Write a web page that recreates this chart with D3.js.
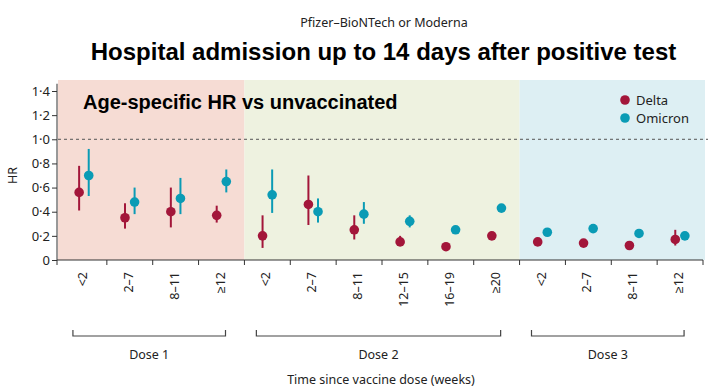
<!DOCTYPE html>
<html>
<head>
<meta charset="utf-8">
<script src="https://cdn.jsdelivr.net/npm/d3@7"></script>
<style>
  body { margin: 0; background: #fff; }
  text { font-family: "Noto Sans", sans-serif; fill: #222; }
</style>
</head>
<body>
<div id="chart"></div>
<script>
// time since dose categories, per dose group
const doses = ["Dose 1", "Dose 2", "Dose 3"]
const categories = [
  ["<2", "2–7", "8–11", "≥12"],
  ["<2", "2–7", "8–11", "12–15", "16–19", "≥20"],
  ["<2", "2–7", "8–11", "≥12"]
]
// HR estimates with 95% CI
const deltaHR   = [0.56, 0.35, 0.40, 0.37,  0.20, 0.46, 0.25, 0.15, 0.11, 0.20,  0.15, 0.14, 0.12, 0.17]
const deltaLow  = [0.41, 0.26, 0.27, 0.31,  0.10, 0.29, 0.17, 0.12, 0.10, 0.19,  0.14, 0.13, 0.11, 0.12]
const deltaHigh = [0.78, 0.47, 0.60, 0.45,  0.37, 0.70, 0.37, 0.20, 0.12, 0.21,  0.16, 0.15, 0.13, 0.25]
const omiHR     = [0.70, 0.48, 0.51, 0.65,  0.54, 0.40, 0.38, 0.32, 0.25, 0.43,  0.23, 0.26, 0.22, 0.20]
const omiLow    = [0.53, 0.38, 0.38, 0.56,  0.39, 0.31, 0.30, 0.27, 0.24, 0.42,  0.22, 0.25, 0.21, 0.18]
const omiHigh   = [0.92, 0.60, 0.68, 0.75,  0.75, 0.51, 0.48, 0.37, 0.26, 0.44,  0.24, 0.27, 0.23, 0.22]
const yTicks = [0, 0.2, 0.4, 0.6, 0.8, 1.0, 1.2, 1.4]

const width = 715, height = 392
const colDelta = "#a3163a", colOmi = "#0a9bb5"
const bgColors = ["#f6dcd4", "#eef2e0", "#ddeff3"]

const svg = d3.select("#chart").append("svg")
  .attr("width", width).attr("height", height)

// flatten
let rows = []
categories.forEach((cats, g) => {
  cats.forEach(c => rows.push({ key: g + "_" + c, label: c, group: g }))
})
rows.forEach((r, i) => {
  r.d = deltaHR[i]; r.dl = deltaLow[i]; r.dh = deltaHigh[i]
  r.o = omiHR[i]; r.ol = omiLow[i]; r.oh = omiHigh[i]
})

const x = d3.scaleBand().domain(rows.map(r => r.key)).range([61, 703])
const y = d3.scaleLinear().domain([0, 1.4]).range([260, 91])
const plotTop = 80

// panel backgrounds
doses.forEach((d, g) => {
  let keys = rows.filter(r => r.group == g).map(r => r.key)
  let x0 = g == 0 ? 58 : x(keys[0])
  let x1 = x(keys[keys.length - 1]) + x.bandwidth()
  if (g == 2) x1 = 705
  svg.append("rect").attr("x", x0).attr("y", plotTop)
    .attr("width", x1 - x0).attr("height", y(0) - plotTop)
    .attr("fill", bgColors[g])
})

// reference line HR = 1
svg.append("line")
  .attr("x1", 58).attr("x2", 708)
  .attr("y1", y(1)).attr("y2", y(1))
  .attr("stroke", "#555").attr("stroke-width", 1)
  .attr("stroke-dasharray", "3,3")

// y axis
const yAxis = svg.append("g").attr("transform", "translate(57,0)")
  .call(d3.axisLeft(y).tickValues(yTicks).tickSize(5)
    .tickFormat(d => d == 0 ? "0" : d3.format(".1f")(d).replace(".", "·")))
yAxis.select(".domain").attr("d", "M0," + y(1.46) + "V" + y(0)).attr("stroke", "#333")
yAxis.selectAll(".tick line").attr("stroke", "#333")
yAxis.selectAll("text").style("font-size", "13px").attr("fill", "#222")
  .attr("x", -7)

svg.append("text").attr("transform", "translate(17," + y(0.7) + ") rotate(-90)")
  .attr("text-anchor", "middle").style("font-size", "12.5px").text("HR")

// x axis
const xAx = svg.append("g")
xAx.append("line").attr("x1", 57).attr("x2", 703)
  .attr("y1", y(0)).attr("y2", y(0)).attr("stroke", "#333")
let bounds = rows.map(r => x(r.key)).concat([703])
xAx.selectAll(".xt").data(bounds.slice(1)).enter().append("line")
  .attr("x1", d => d).attr("x2", d => d)
  .attr("y1", y(0)).attr("y2", y(0) + 5).attr("stroke", "#333")
xAx.append("line").attr("x1", 57).attr("x2", 57)
  .attr("y1", y(0)).attr("y2", y(0) + 5).attr("stroke", "#333")
xAx.selectAll(".xl").data(rows).enter().append("text")
  .attr("transform", r => "translate(" + (x(r.key) + x.bandwidth() / 2 + 3) + "," + (y(0) + 12) + ") rotate(-90)")
  .attr("text-anchor", "end")
  .style("font-size", "12.5px")
  .text(r => r.label)

// dose brackets
doses.forEach((d, g) => {
  let keys = rows.filter(r => r.group == g).map(r => r.key)
  let bx0 = x(keys[0]) + x.bandwidth() / 2 - 11
  let bx1 = x(keys[keys.length - 1]) + x.bandwidth() / 2 + 4
  let by = 336
  svg.append("path")
    .attr("d", `M${bx0},${by - 6}V${by}H${bx1}V${by - 6}`)
    .attr("fill", "none").attr("stroke", "#444").attr("stroke-width", 1.2)
  svg.append("text").attr("x", (bx0 + bx1) / 2).attr("y", 359)
    .attr("text-anchor", "middle").style("font-size", "12.5px").text(d)
})
svg.append("text").attr("x", 381).attr("y", 384)
  .attr("text-anchor", "middle").style("font-size", "12.5px")
  .text("Time since vaccine dose (weeks)")

// error bars and points
const off = 4.8
const pts = svg.append("g")
pts.selectAll(".dci").data(rows).enter().append("line")
  .attr("x1", r => x(r.key) + x.bandwidth() / 2 - off)
  .attr("x2", r => x(r.key) + x.bandwidth() / 2 - off)
  .attr("y1", r => y(r.dl)).attr("y2", r => y(r.dh))
  .attr("stroke", colDelta).attr("stroke-width", 2)
pts.selectAll(".oci").data(rows).enter().append("line")
  .attr("x1", r => x(r.key) + x.bandwidth() / 2 + off)
  .attr("x2", r => x(r.key) + x.bandwidth() / 2 + off)
  .attr("y1", r => y(r.ol)).attr("y2", r => y(r.oh))
  .attr("stroke", colOmi).attr("stroke-width", 2)
pts.selectAll(".dp").data(rows).enter().append("circle")
  .attr("cx", r => x(r.key) + x.bandwidth() / 2 - off)
  .attr("cy", r => y(r.d)).attr("r", 4.8).attr("fill", colDelta)
pts.selectAll(".op").data(rows).enter().append("circle")
  .attr("cx", r => x(r.key) + x.bandwidth() / 2 + off)
  .attr("cy", r => y(r.o)).attr("r", 4.8).attr("fill", colOmi)

// legend
const leg = [["Delta", colDelta], ["Omicron", colOmi]]
leg.forEach((l, i) => {
  svg.append("circle").attr("cx", 625).attr("cy", 100 + i * 18).attr("r", 4.8).attr("fill", l[1])
  svg.append("text").attr("x", 636).attr("y", 105 + i * 18)
    .style("font-size", "13px").text(l[0])
})

// titles
svg.append("text").attr("x", 384).attr("y", 27).attr("text-anchor", "middle")
  .style("font-size", "12.5px").text("Pfizer–BioNTech or Moderna")
svg.append("text").attr("x", 383.5).attr("y", 60).attr("text-anchor", "middle")
  .style("font-family", "'Liberation Sans', Arial, sans-serif")
  .style("font-weight", "bold").style("font-size", "24px").style("fill", "#000")
  .text("Hospital admission up to 14 days after positive test")
svg.append("text").attr("x", 83).attr("y", 109)
  .style("font-family", "'Liberation Sans', Arial, sans-serif")
  .style("font-weight", "bold").style("font-size", "20px").style("fill", "#000")
  .text("Age-specific HR vs unvaccinated")
</script>
</body>
</html>
